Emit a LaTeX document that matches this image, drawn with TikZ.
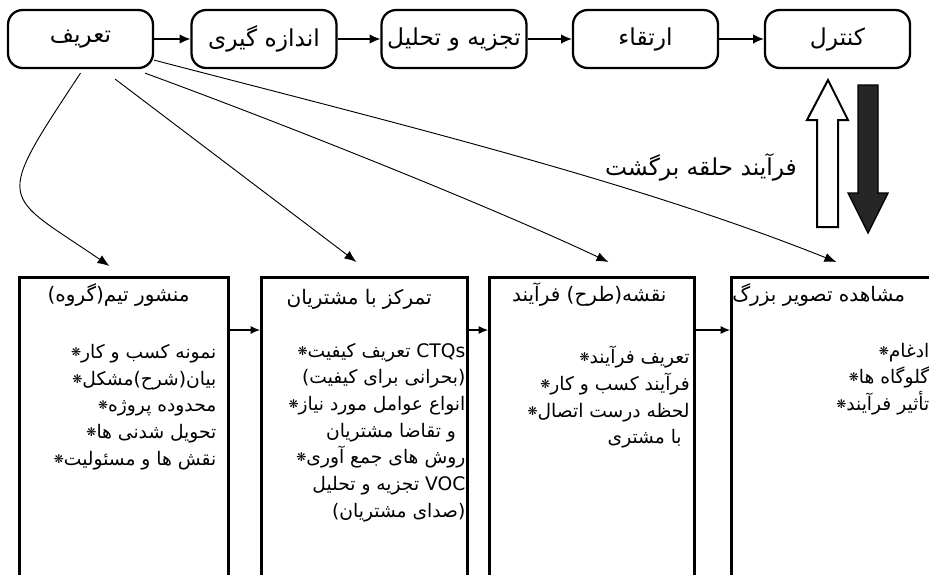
\documentclass[tikz,border=0pt]{standalone}
\usepackage{fontspec}
\setmainfont{DejaVu Sans}
\newfontfamily\farsi[Script=Arabic]{DejaVu Sans}
\TeXXeTstate=1
\usetikzlibrary{arrows.meta,calc}

% right-to-left run and list bullet
\newcommand\fa[1]{{\farsi\beginR #1\endR}}
\newcommand\bul{\raisebox{1.5pt}{\fontsize{9}{9}\selectfont ❋}}

\tikzset{
  stage/.style={draw, line width=1.7pt, rounded corners=11pt, inner sep=0pt,
    minimum width=108.75pt, minimum height=43.5pt, font=\fontsize{17.5}{20}\selectfont},
  panel/.style={draw, line width=2.2pt, anchor=north west, inner sep=0pt,
    minimum height=225.75pt},
  flow/.style={-{Latex[length=8pt,width=7pt]}, line width=0.9pt},
  link/.style={-{Latex[length=9pt,width=7pt]}, line width=0.7pt},
  hop/.style={-{Latex[length=7pt,width=6pt]}, line width=0.8pt},
  head/.style={font=\fontsize{15}{18}\selectfont, inner sep=0pt},
  items/.style={font=\fontsize{14}{20}\selectfont, align=right, anchor=north east, inner sep=0pt},
  note/.style={font=\fontsize{17.5}{20}\selectfont, inner sep=0pt},
}

\begin{document}
\begin{tikzpicture}[x=0.75pt,y=-0.75pt]
    % --- Page (pixel units, y downwards) ---
    \useasboundingbox (0,0) rectangle (929,575);
    \clip (0,0) rectangle (929,575);

    % --- DMAIC chain ---
    \node[stage] (def)  at (80.5,39)  {\fa{تعریف}};
    \node[stage] (meas) at (264,39)   {\fa{اندازه گیری}};
    \node[stage] (anal) at (454,39)   {\fa{تجزیه و تحلیل}};
    \node[stage] (impr) at (645.5,39) {\fa{ارتقاء}};
    \node[stage] (ctrl) at (837.5,39) {\fa{کنترل}};

    \draw[flow] (def) -- (meas);
    \draw[flow] (meas) -- (anal);
    \draw[flow] (anal) -- (impr);
    \draw[flow] (impr) -- (ctrl);

    % --- Feedback loop: hollow up, solid down ---
    \draw[line width=1.5pt, fill=white] (828,80) -- (848,120) -- (838,120) -- (838,227)
        -- (817,227) -- (817,120) -- (807,120) -- cycle;
    \draw[line width=1pt, fill=black!85] (858,85) -- (878,85) -- (878,193) -- (888,193)
        -- (868,233) -- (848,193) -- (858,193) -- cycle;
    \node[note] (loopnote) at (701,167) {\fa{فرآیند حلقه برگشت}};

    % --- Define-phase panels ---
    \node[panel, minimum width=156.75pt] (charter) at (18,276) {};
    \node[panel, minimum width=154.5pt]  (voice)   at (260,276) {};
    \node[panel, minimum width=153.75pt] (pmap)    at (488,276) {};
    \node[panel, minimum width=157.5pt]  (bigpic)  at (730,276) {};

    \draw[hop] ([yshift=-40.5pt]charter.north east) -- ([yshift=-40.5pt]voice.north west);
    \draw[hop] ([yshift=-40.5pt]voice.north east) -- ([yshift=-40.5pt]pmap.north west);
    \draw[hop] ([yshift=-40.5pt]pmap.north east) -- ([yshift=-40.5pt]bigpic.north west);

    % panel titles
    \node[head] (charter-t) at ([xshift=-4pt,yshift=-14pt]charter.north) {\fa{منشور تیم(گروه)}};
    \node[head] (voice-t)   at ([xshift=-4pt,yshift=-17.5pt]voice.north) {\fa{تمرکز با مشتریان}};
    \node[head] (pmap-t)    at ([xshift=-2pt,yshift=-14pt]pmap.north)    {\fa{نقشه(طرح) فرآیند}};
    \node[head, anchor=west] (bigpic-t) at ([xshift=1.5pt,yshift=-14pt]bigpic.north west) {\fa{مشاهده تصویر بزرگ}};

    % panel contents
    \node[items] (charter-l) at ([xshift=-10pt,yshift=-51pt]charter.north east) {%
        \bul\fa{نمونه کسب و کار}\\
        \bul\fa{بیان(شرح)مشکل}\\
        \bul\fa{محدوده پروژه}\\
        \bul\fa{تحویل شدنی ها}\\
        \bul\fa{نقش ها و مسئولیت}};
    \node[items] (voice-l) at ([xshift=-2.5pt,yshift=-50pt]voice.north east) {%
        \bul\fa{تعریف کیفیت} CTQs\\
        \fa{(بحرانی برای کیفیت)}\\
        \bul\fa{انواع عوامل مورد نیاز}\\
        \fa{و تقاضا مشتریان}\rule{7pt}{0pt}\\
        \bul\fa{روش های جمع آوری}\\
        \fa{تجزیه و تحلیل} VOC\\
        \fa{(صدای مشتریان)}};
    \node[items] (pmap-l) at ([xshift=-4.5pt,yshift=-52.5pt]pmap.north east) {%
        \bul\fa{تعریف فرآیند}\\
        \bul\fa{فرآیند کسب و کار}\\
        \bul\fa{لحظه درست اتصال}\\
        \fa{با مشتری}\rule{6pt}{0pt}};
    \node[items] (bigpic-l) at ([xshift=-10pt,yshift=-50pt]bigpic.north east) {%
        \bul\fa{ادغام}\\
        \bul\fa{گلوگاه ها}\\
        \bul\fa{تأثیر فرآیند}};

    % --- Links from Define to its panels ---
    \draw[link] ([yshift=-3pt]def.south) .. controls +(-88,133) and +(-108,-74)
        .. ([xshift=-10.9pt,yshift=7.5pt]charter.north);
    \draw[link] ([xshift=26pt,yshift=-7.5pt]def.south) -- ([xshift=-6pt,yshift=10.5pt]voice.north);
    \draw[link] ([xshift=48.4pt,yshift=-3pt]def.south) .. controls +(150,55) and +(-110,-52)
        .. ([xshift=12.4pt,yshift=10.5pt]pmap.north);
    \draw[link] ([yshift=6.75pt]def.south east) .. controls +(250,65) and +(-200,-80)
        .. ([yshift=10.5pt]bigpic.north);

\end{tikzpicture}
\end{document}
